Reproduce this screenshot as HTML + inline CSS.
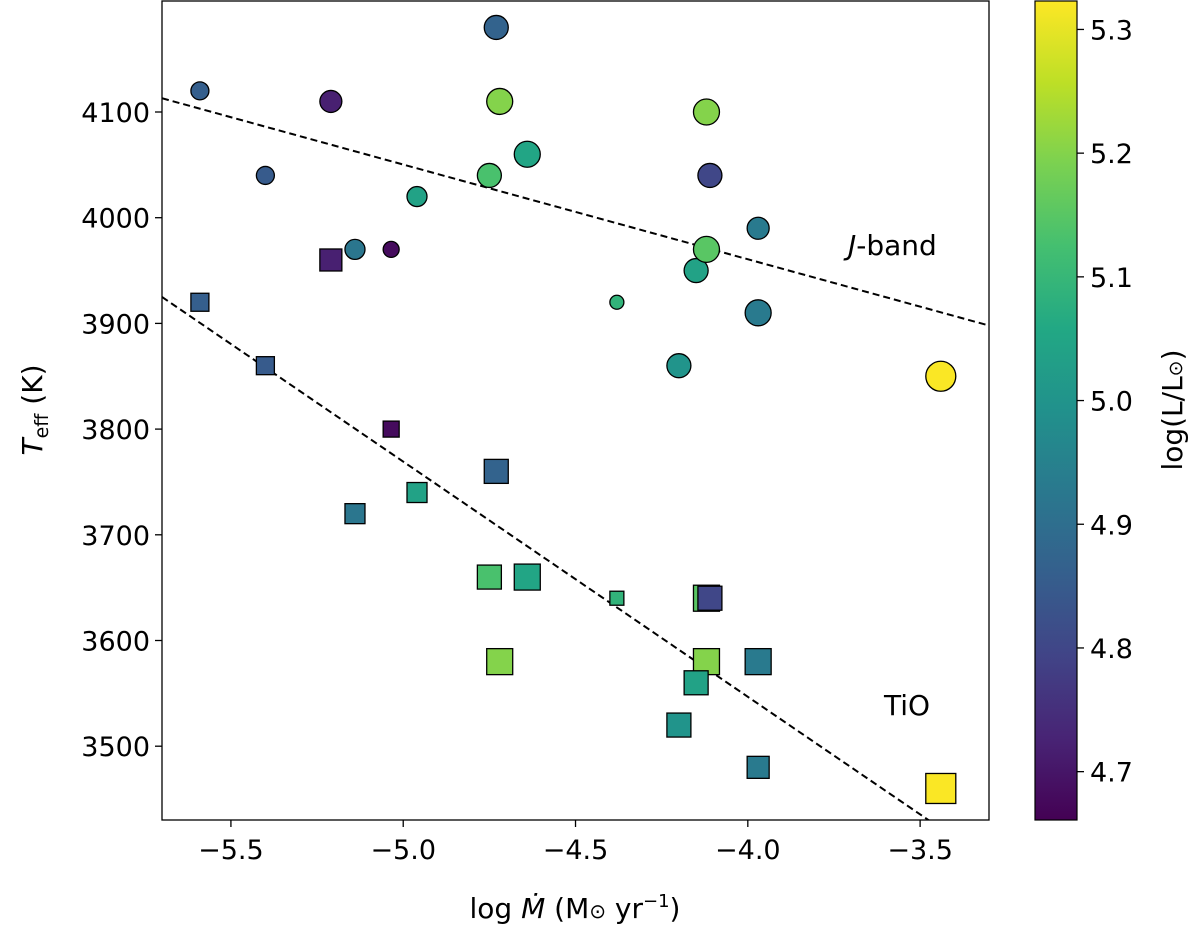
<!DOCTYPE html>
<html><head><meta charset="utf-8"><style>
body{margin:0;background:#fff;}
svg{display:block;font-family:"DejaVu Sans","Liberation Sans",sans-serif;}
</style></head><body>
<svg id="chart" width="1200" height="931" viewBox="0 0 1200 931">
<defs>
<linearGradient id="vir" x1="0" y1="1" x2="0" y2="0">
<stop offset="0" stop-color="#440154"/><stop offset="0.1" stop-color="#482475"/><stop offset="0.2" stop-color="#414487"/><stop offset="0.3" stop-color="#355f8d"/><stop offset="0.4" stop-color="#2a788e"/><stop offset="0.5" stop-color="#21918c"/><stop offset="0.6" stop-color="#22a884"/><stop offset="0.7" stop-color="#44bf70"/><stop offset="0.8" stop-color="#7ad151"/><stop offset="0.9" stop-color="#bddf26"/><stop offset="1" stop-color="#fde725"/>
</linearGradient>
<clipPath id="clip"><rect x="162" y="1" width="827" height="819"/></clipPath>
</defs>
<g id="plot" clip-path="url(#clip)"></g>
<rect x="162" y="1" width="827" height="819" fill="none" stroke="#000" stroke-width="1.3"/>
<g id="axes"></g>
<text x="575" y="918" text-anchor="middle" font-size="28">log <tspan font-style="italic">Ṁ</tspan>  (M<tspan font-size="20">⊙</tspan> yr<tspan font-size="18" dy="-11">−1</tspan><tspan dy="11">)</tspan></text>
<text transform="translate(42,410) rotate(-90)" text-anchor="middle" font-size="28"><tspan font-style="italic">T</tspan><tspan font-size="19" dy="6">eff</tspan><tspan dy="-6"> (K)</tspan></text>
<text x="848" y="255" font-size="28"><tspan font-style="italic">J</tspan>-band</text>
<text x="884" y="715" font-size="28">TiO</text>
<rect x="1035" y="1" width="42" height="819" fill="url(#vir)" stroke="#000" stroke-width="1.2"/>
<text transform="translate(1182,410) rotate(-90)" text-anchor="middle" font-size="28">log(L/L<tspan font-size="19">⊙</tspan>)</text>
</svg>
<script>
const xTicks=[-5.5,-5.0,-4.5,-4.0,-3.5];
const yTicks=[3500,3600,3700,3800,3900,4000,4100];
const cTicks=[4.7,4.8,4.9,5.0,5.1,5.2,5.3];
const logMdot=[-5.59,-5.40,-5.21,-5.14,-5.035,-4.96,-4.73,-4.72,-4.75,-4.64,-4.38,-4.20,-4.15,-4.12,-4.11,-4.12,-3.97,-3.97,-3.44];
const teffJ=[4120,4040,4110,3970,3970,4020,4180,4110,4040,4060,3920,3860,3950,4100,4040,3970,3990,3910,3850];
const teffTiO=[3920,3860,3960,3720,3800,3740,3760,3580,3660,3660,3640,3520,3560,3580,3640,3640,3480,3580,3460];
const logL=[4.86,4.85,4.72,4.92,4.68,5.04,4.87,5.20,5.13,5.05,5.09,5.00,5.04,5.20,4.80,5.15,4.93,4.93,5.32];
const markerSize=[9,9,11,10,8,10,12,13,12,13,7,12,12,13,12,13,11,13,15];
const fitJ=[4113,-89.6];   // T at x=-5.7, slope per dex
const fitTiO=[3925,-222.5];

const X=v=>162+(v+5.7)*344.6;
const Y=t=>112+(4100-t)*1.057;
const C=v=>1+(5.323-v)*1237;
const stops=[[68,1,84],[72,36,117],[65,68,135],[53,95,141],[42,120,142],[33,145,140],[34,168,132],[68,191,112],[122,209,81],[189,223,38],[253,231,37]];
function vir(v){let t=(v-4.661)/(5.323-4.661);t=Math.max(0,Math.min(1,t))*10;const i=Math.min(9,Math.floor(t)),f=t-i;const a=stops[i],b=stops[i+1];return `rgb(${a.map((c,k)=>Math.round(c+(b[k]-c)*f)).join(',')})`;}
const NS='http://www.w3.org/2000/svg';
function mk(tag,at,parent){const e=document.createElementNS(NS,tag);for(const k in at)e.setAttribute(k,at[k]);parent.appendChild(e);return e;}
const plot=document.getElementById('plot'),axes=document.getElementById('axes');
[[fitJ,'j-band-fit-line'],[fitTiO,'tio-fit-line']].forEach(([f,n])=>{
 const l=mk('line',{x1:X(-5.7),y1:Y(f[0]),x2:X(-3.3),y2:Y(f[0]+f[1]*2.4),stroke:'#000','stroke-width':2,'stroke-dasharray':'7,4'},plot);
 
 
});
logMdot.forEach((x,i)=>{
 const c=mk('circle',{cx:X(x),cy:Y(teffJ[i]),r:markerSize[i],fill:vir(logL[i]),stroke:'#000','stroke-width':1.3},plot);
 
 
});
for(let i=logMdot.length-1;i>=0;i--){
 const r=markerSize[i],x=logMdot[i];
 const s=mk('rect',{x:X(x)-r,y:Y(teffTiO[i])-r,width:2*r,height:2*r,fill:vir(logL[i]),stroke:'#000','stroke-width':1.3},plot);
 
 
}
xTicks.forEach(v=>{
 mk('line',{x1:X(v),x2:X(v),y1:820,y2:827,stroke:'#000','stroke-width':1.3},axes);
 const t=mk('text',{x:X(v),y:859,'text-anchor':'middle','font-size':27},axes);
 t.textContent=(v<0?'−':'')+Math.abs(v).toFixed(1);
 
 
});
yTicks.forEach(v=>{
 mk('line',{x1:155,x2:162,y1:Y(v),y2:Y(v),stroke:'#000','stroke-width':1.3},axes);
 const t=mk('text',{x:150,y:Y(v)+10,'text-anchor':'end','font-size':27},axes);
 t.textContent=v;
 
 
});
cTicks.forEach(v=>{
 mk('line',{x1:1077,x2:1084,y1:C(v),y2:C(v),stroke:'#000','stroke-width':1.3},axes);
 const t=mk('text',{x:1090,y:C(v)+10,'font-size':27},axes);
 t.textContent=v.toFixed(1);
 
 
});
</script>
</body></html>
